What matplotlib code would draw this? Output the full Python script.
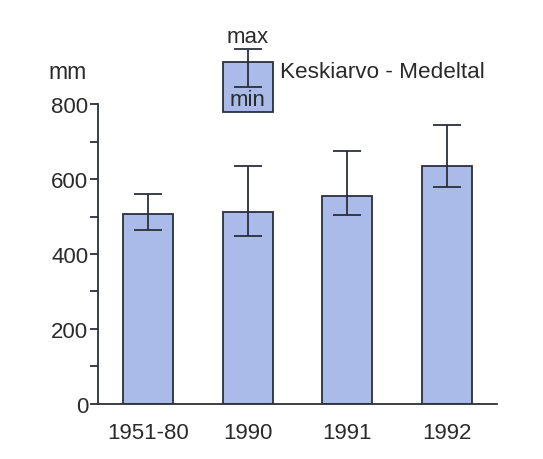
import numpy as np
import matplotlib
matplotlib.use('Agg')
import matplotlib.pyplot as plt

# data (mm)
periods = ['1951-80', '1990', '1991', '1992']
mean_vals = [507, 511, 556, 634]
max_vals = [560, 636, 676, 744]
min_vals = [464, 448, 503, 579]

# legend key drawn above the plot
key_x = 1.0
key_bottom = 779
key_top = 912
key_max = 948
key_min = 846

plt.rcParams['font.family'] = ['Liberation Sans', 'DejaVu Sans']
txt_col = '#2a2a2a'
bar_col = '#abbbe9'
edge_col = '#2b2f3a'

fig = plt.figure(figsize=(5.43, 4.6), dpi=100)
ax = fig.add_axes([0.1805, 0.1196, 0.7348, 0.6521])

x = np.arange(len(periods))
means = np.array(mean_vals)
err = [means - np.array(min_vals), np.array(max_vals) - means]
ax.bar(x, means, width=0.5, color=bar_col, edgecolor=edge_col, linewidth=1.3, zorder=2)
ax.errorbar(x, means, yerr=err, fmt='none', ecolor=edge_col, elinewidth=1.3,
            capsize=10, capthick=1.3, zorder=3)

# legend key
ax.bar([key_x], [key_top - key_bottom], bottom=key_bottom, width=0.5, color=bar_col,
       edgecolor=edge_col, linewidth=1.3, clip_on=False, zorder=2)
ax.errorbar([key_x], [(key_max + key_min) / 2], yerr=[(key_max - key_min) / 2], fmt='none',
            ecolor=edge_col, elinewidth=1.3, capsize=10, capthick=1.3, clip_on=False, zorder=3)
ax.text(key_x, 979, 'max', ha='center', va='center', fontsize=16, color=txt_col)
ax.text(key_x, 811, 'min', ha='center', va='center', fontsize=16, color=txt_col)
ax.text(key_x + 0.32, 886, 'Keskiarvo - Medeltal', ha='left', va='center',
        fontsize=16.2, color=txt_col)
ax.text(-1.0, 887, 'mm', ha='left', va='center', fontsize=16.5, color=txt_col)

ax.set_xlim(-0.5, 3.5)
ax.set_ylim(0, 800)
ax.set_xticks(x)
ax.set_xticklabels(periods)
ax.set_yticks([0, 200, 400, 600, 800])
ax.set_yticks([100, 300, 500, 700], minor=True)
ax.tick_params(axis='x', length=0, pad=13, labelsize=16, labelcolor=txt_col)
ax.tick_params(axis='y', which='both', length=6, width=1.3, color=edge_col,
               labelsize=16, labelcolor=txt_col, pad=1)
ax.spines['top'].set_visible(False)
ax.spines['right'].set_visible(False)
for s in ['left', 'bottom']:
    ax.spines[s].set_linewidth(1.3)
    ax.spines[s].set_color(edge_col)

fig.savefig('out.png', dpi=100)
